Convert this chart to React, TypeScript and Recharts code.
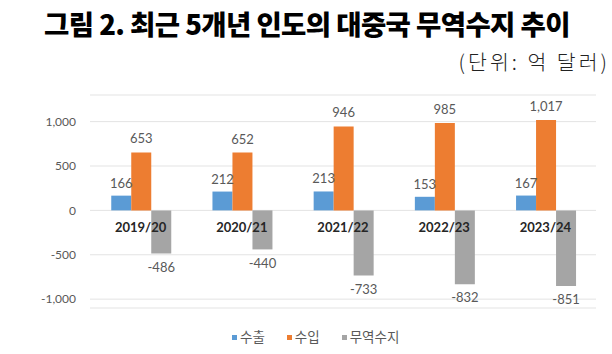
import { BarChart, Bar, XAxis, YAxis, CartesianGrid, LabelList, Legend, ReferenceDot } from 'recharts'

const years = ['2019/20', '2020/21', '2021/22', '2022/23', '2023/24']
const exports = [166, 212, 213, 153, 167]
const imports = [653, 652, 946, 985, 1017]
const balance = [-486, -440, -733, -832, -851]
const yTicks = [-1000, -500, 0, 500, 1000]

const seriesNames = ['수출', '수입', '무역수지']
const colors = ['#5B9BD5', '#ED7D31', '#A5A5A5']

const data = years.map((year, i) => ({
  year,
  exports: exports[i],
  imports: imports[i],
  balance: balance[i],
}))

const numFont = 'Lato, "Noto Sans", sans-serif'
const krFont = '"Noto Sans CJK KR", "Noto Sans", sans-serif'

const fmt = (v: number) => v.toLocaleString('en-US')

function LegendContent() {
  return (
    <div style={{ display: 'flex', alignItems: 'center', fontFamily: krFont, fontSize: 13.5, color: '#595959' }}>
      {seriesNames.map((name, i) => (
        <span key={name} style={{ display: 'flex', alignItems: 'center', marginRight: 22 }}>
          <span style={{ width: 5, height: 5, background: colors[i], marginRight: 3, marginTop: 3 }} />
          {name}
        </span>
      ))}
    </div>
  )
}

export default function App() {
  return (
    <div style={{ position: 'absolute', left: 0, top: 0, width: 612, height: 354, background: '#fff', overflow: 'hidden' }}>
      <div
        style={{
          position: 'absolute',
          left: 0,
          width: 614,
          top: 5,
          textAlign: 'center',
          fontFamily: krFont,
          fontWeight: 900,
          fontSize: 27.5,
          letterSpacing: -0.6,
          color: '#000',
          lineHeight: '36px',
        }}
      >
        그림 2. 최근 5개년 인도의 대중국 무역수지 추이
      </div>
      <div
        style={{
          position: 'absolute',
          right: 2,
          top: 47,
          fontFamily: krFont,
          fontWeight: 300,
          fontSize: 20.5,
          letterSpacing: 3,
          color: '#222',
          lineHeight: '28px',
        }}
      >
        (단위: 억 달러)
      </div>
      <BarChart
        width={612}
        height={354}
        data={data}
        margin={{ top: 95, right: 16, left: 0, bottom: 26 }}
        barCategoryGap="21%"
        barGap={0}
      >
        <CartesianGrid vertical={false} stroke="#E3E3E3" />
        <XAxis dataKey="year" hide />
        <YAxis
          width={90}
          domain={[-1100, 1300]}
          ticks={yTicks}
          tickFormatter={fmt}
          axisLine={false}
          tickLine={false}
          tickSize={0}
          tickMargin={14}
          tick={{ fontSize: 12, fill: '#595959', fontFamily: numFont }}
        />
        <Bar dataKey="exports" name={seriesNames[0]} fill={colors[0]} isAnimationActive={false}>
          <LabelList dataKey="exports" position="top" offset={8} formatter={fmt} style={{ fontSize: 13, fill: '#595959', fontFamily: numFont }} />
        </Bar>
        <Bar dataKey="imports" name={seriesNames[1]} fill={colors[1]} isAnimationActive={false}>
          <LabelList dataKey="imports" position="top" offset={9} formatter={fmt} style={{ fontSize: 13, fill: '#595959', fontFamily: numFont }} />
        </Bar>
        <Bar dataKey="balance" name={seriesNames[2]} fill={colors[2]} isAnimationActive={false}>
          <LabelList dataKey="balance" position="top" offset={9} formatter={fmt} style={{ fontSize: 13, fill: '#595959', fontFamily: numFont }} />
        </Bar>
        {years.map((y) => (
          <ReferenceDot
            key={y}
            x={y}
            y={0}
            r={1}
            fill="none"
            stroke="none"
            label={{ value: y, position: 'bottom', offset: 11, fontSize: 13, fontWeight: 700, fill: '#262626', fontFamily: numFont }}
          />
        ))}
        <Legend
          verticalAlign="bottom"
          content={<LegendContent />}
          wrapperStyle={{ left: 232, top: 326, width: 'auto' }}
        />
      </BarChart>
    </div>
  )
}
